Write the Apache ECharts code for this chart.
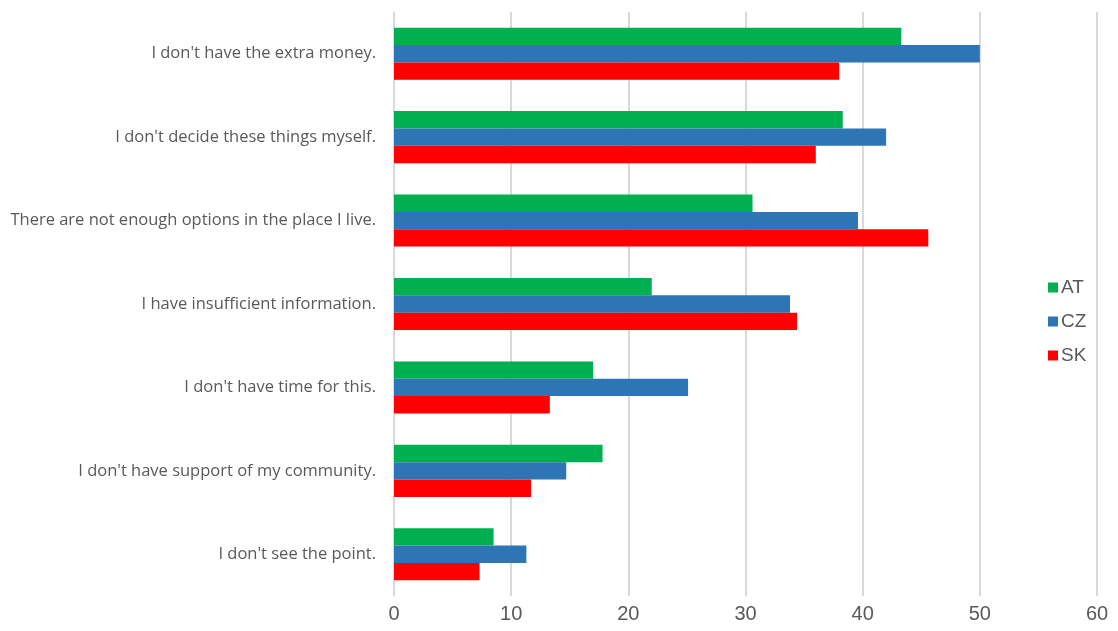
<!DOCTYPE html>
<html>
<head>
<meta charset="utf-8">
<script src="https://cdn.jsdelivr.net/npm/echarts@6/dist/echarts.min.js"></script>
<style>
  html, body { margin: 0; padding: 0; background: #fff; }
  #chart { width: 1118px; height: 631px; }
</style>
</head>
<body>
<div id="chart"></div>
<script>
// Reasons given, listed top to bottom
const categories = [
  "I don't have the extra money.",
  "I don't decide these things myself.",
  "There are not enough options in the place I live.",
  "I have insufficient information.",
  "I don't have time for this.",
  "I don't have support of my community.",
  "I don't see the point."
];
const seriesNames = ["AT", "CZ", "SK"];
const valuesAT = [43.3, 38.3, 30.6, 22.0, 17.0, 17.8, 8.5];
const valuesCZ = [50.0, 42.0, 39.6, 33.8, 25.1, 14.7, 11.3];
const valuesSK = [38.0, 36.0, 45.6, 34.4, 13.3, 11.7, 7.3];
const xTicks = [0, 10, 20, 30, 40, 50, 60];

const colors = ["#00b050", "#2e75b6", "#ff0000"];
const chart = echarts.init(document.getElementById('chart'), null, { renderer: 'canvas' });

const seriesData = [valuesAT, valuesCZ, valuesSK];

chart.setOption({
  animation: false,
  backgroundColor: '#ffffff',
  grid: { left: 394, right: 21, top: 12, bottom: 35, containLabel: false },
  legend: {
    orient: 'vertical',
    left: 1043,
    top: 273,
    itemWidth: 10,
    itemHeight: 10,
    itemGap: 15,
    icon: 'rect',
    textStyle: { fontFamily: 'Liberation Sans', fontSize: 19, color: '#595959', padding: [0, 0, 0, -2] },
    data: seriesNames
  },
  xAxis: {
    type: 'value',
    min: xTicks[0],
    max: xTicks[xTicks.length - 1],
    interval: 10,
    axisLine: { show: false },
    axisTick: { show: false },
    splitLine: { show: true, lineStyle: { color: '#d9d9d9', width: 2 } },
    axisLabel: { fontFamily: 'Liberation Sans', fontSize: 20, color: '#595959', margin: 8 }
  },
  yAxis: {
    type: 'category',
    inverse: true,
    data: categories,
    axisLine: { show: false },
    axisTick: { show: false },
    axisLabel: { fontFamily: 'Open Sans', fontSize: 16.5, color: '#595959', margin: 18 }
  },
  series: seriesNames.map((name, i) => ({
    name: name,
    type: 'bar',
    data: seriesData[i],
    barGap: '0%',
    barCategoryGap: '37.6%',
    itemStyle: { color: colors[i] }
  }))
});
</script>
</body>
</html>
